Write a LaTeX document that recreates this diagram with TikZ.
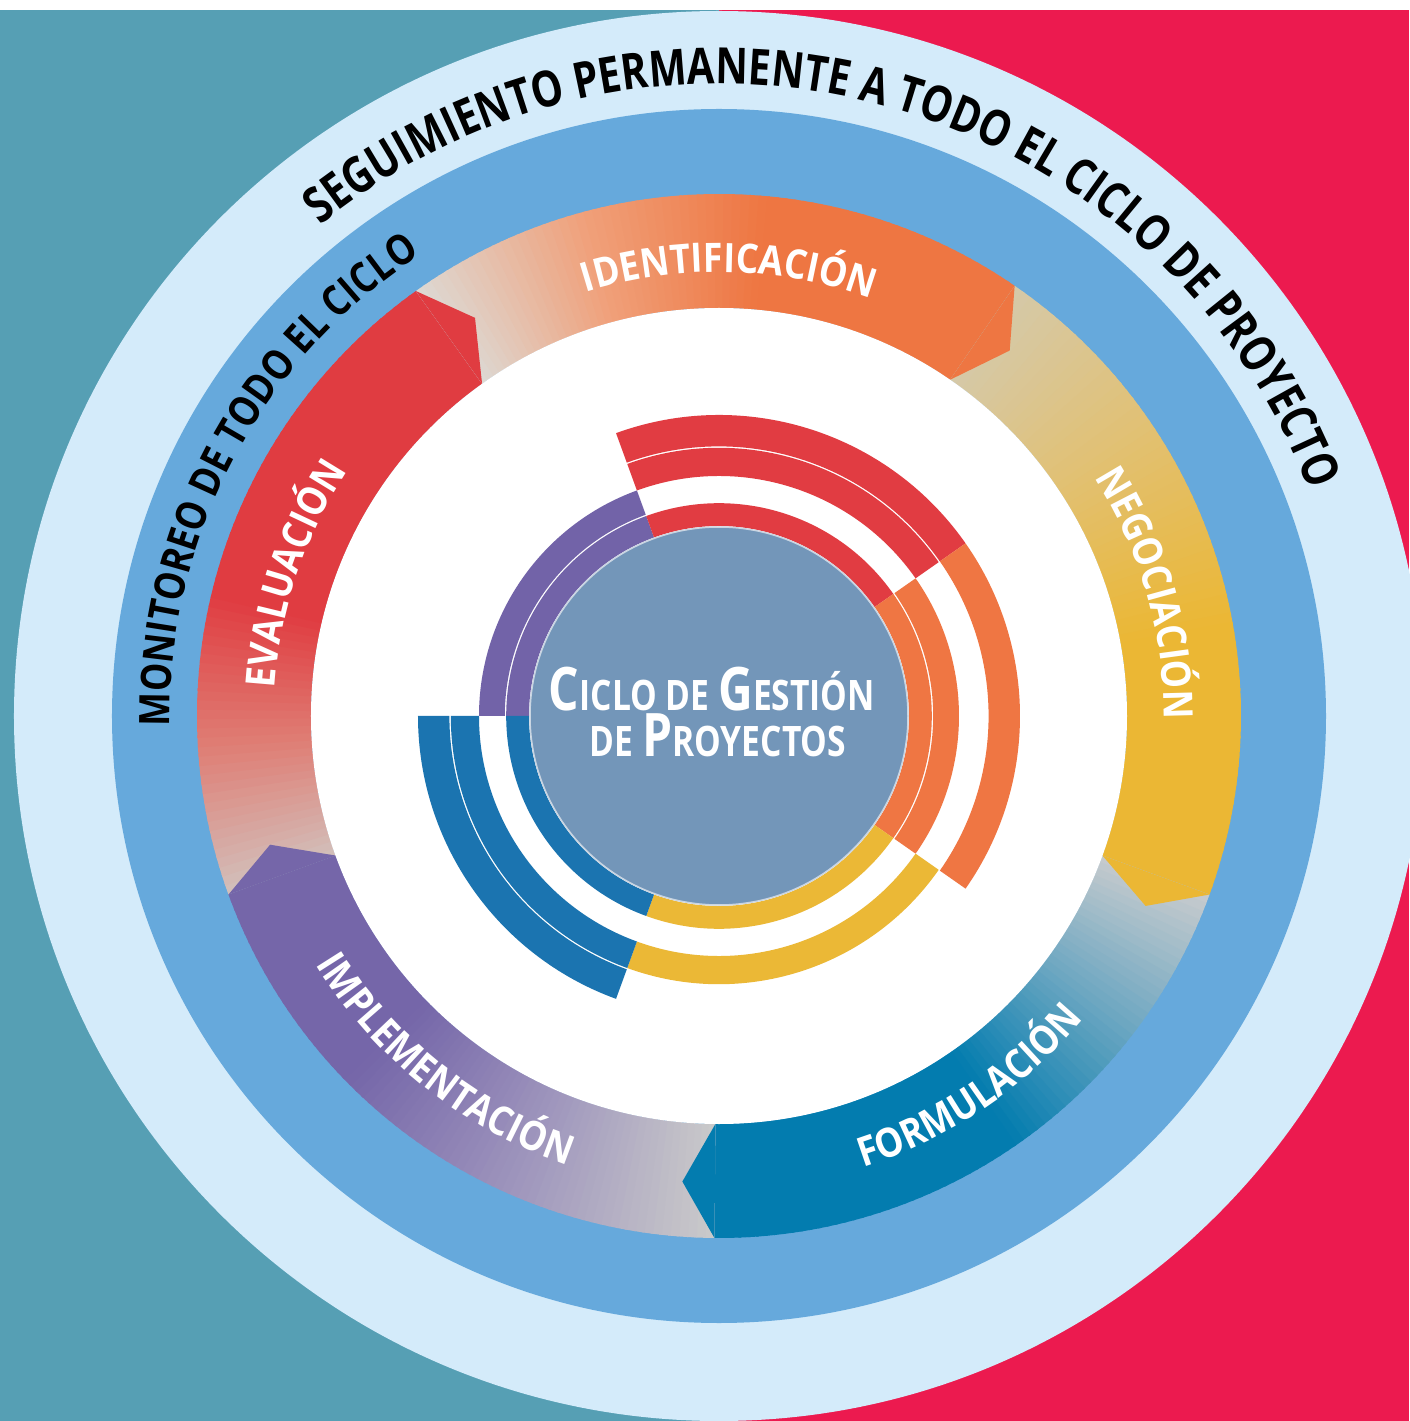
\documentclass[tikz,border=0pt]{standalone}
\usepackage{fontspec}
\newfontfamily\fOut[FakeStretch=0.80]{Open Sans}
\newfontfamily\fMon[FakeStretch=0.85]{Open Sans}
\newfontfamily\fLab[FakeStretch=0.88]{Open Sans}
\newfontfamily\fCen[FakeStretch=0.80]{Open Sans}
\usetikzlibrary{decorations.text}
\definecolor{bgteal}{HTML}{569FB4}
\definecolor{bgred}{HTML}{EC1A4F}
\definecolor{ringlight}{HTML}{D4EBFA}
\definecolor{ringblue}{HTML}{66A9DC}
\definecolor{hred}{HTML}{E03C41}
\definecolor{horange}{HTML}{EE7642}
\definecolor{hyellow}{HTML}{EBB734}
\definecolor{hteal}{HTML}{037CAF}
\definecolor{hpurple}{HTML}{7566A9}
\definecolor{tred}{HTML}{D2C0BB}
\definecolor{mred}{HTML}{DF7D74}
\definecolor{torange}{HTML}{DDD9D4}
\definecolor{morange}{HTML}{F0A07A}
\definecolor{tyellow}{HTML}{D5C9A9}
\definecolor{myellow}{HTML}{E2C070}
\definecolor{tteal}{HTML}{C8CBCE}
\definecolor{mteal}{HTML}{6AA6C1}
\definecolor{tpurple}{HTML}{CACACA}
\definecolor{mpurple}{HTML}{9F96BD}
\definecolor{iblue}{HTML}{1B74B0}
\definecolor{ipurple}{HTML}{7263A8}
\definecolor{iorange}{HTML}{EF7643}
\definecolor{iyellow}{HTML}{EBB836}
\definecolor{ired}{HTML}{E13C42}
\definecolor{disk}{HTML}{7396B9}
\definecolor{diskline}{HTML}{C9D5E2}
% #1 start angle (tail), #2 span, #3 tail, #4 mid, #5 head, #6 gradient fraction
\newcommand\ringseg[6]{%
  \foreach \i in {0,...,71}{%
    \pgfmathsetmacro\sgA{#1-\i*#2/72}%
    \pgfmathsetmacro\sgB{max(#1-#2,#1-(\i+1)*#2/72-0.3)}%
    \pgfmathsetmacro\sgT{(\i+0.5)/72}%
    \pgfmathsetmacro\sgPa{min(100,max(0,200*\sgT/#6))}%
    \pgfmathsetmacro\sgPb{min(100,max(0,200*(\sgT-#6/2)/#6))}%
    \colorlet{tmpA}{#4!\sgPa!#3}%
    \colorlet{segc}{#5!\sgPb!tmpA}%
    \fill[segc] (\sgA:408pt) arc[start angle=\sgA,end angle=\sgB,radius=408pt]
      -- (\sgB:522pt) arc[start angle=\sgB,end angle=\sgA,radius=522pt] -- cycle;
  }}
\newcommand\ringtip[2]{\fill[#2] (#1:522pt) -- ({#1-4}:467pt) -- (#1:408pt) -- cycle;}
\newcommand\band[5]{\fill[#5] (#1:#3pt) arc[start angle=#1,end angle=#2,radius=#3pt]
  -- (#2:#4pt) arc[start angle=#2,end angle=#1,radius=#4pt] -- cycle;}
\tikzset{
  arctext/.style={decorate,decoration={text along path,text align=center,text={#1}}},
}
\begin{document}
\begin{tikzpicture}
\useasboundingbox (-719pt,-705pt) rectangle (690pt,716pt);
\fill[white] (-719pt,-705pt) rectangle (690pt,716pt);
\fill[bgteal] (-719pt,-705pt) rectangle (0pt,706pt);
\fill[bgred] (0pt,-705pt) rectangle (690pt,706pt);
\fill[ringlight] (0,0) circle[radius=705pt];
\fill[ringblue] (0,0) circle[radius=607pt];
% phase ring
\ringseg{200}{74.5}{tred}{mred}{hred}{0.45}
\ringseg{125.5}{70}{torange}{morange}{horange}{0.58}
\ringseg{55.5}{75.5}{tyellow}{myellow}{hyellow}{0.6}
\ringseg{-20}{70.5}{tteal}{mteal}{hteal}{0.5}
\ringseg{-90.5}{69.5}{tpurple}{mpurple}{hpurple}{0.65}
\ringtip{125.5}{hred}
\ringtip{55.5}{horange}
\ringtip{-20}{hyellow}
\ringtip{-90.5}{hteal}
\ringtip{200}{hpurple}
\fill[white] (0,0) circle[radius=408pt];
% inner bands
\band{180}{110}{190}{212.8}{ipurple}
\band{110}{35}{190}{212.8}{ired}
\band{35}{-35}{190}{212.8}{iorange}
\band{-35}{-110}{190}{212.8}{iyellow}
\band{-110}{-180}{190}{212.8}{iblue}
\band{180}{110}{214.2}{240}{ipurple}
\band{35}{-35}{214.2}{240}{iorange}
\band{110}{35}{240}{268.2}{ired}
\band{-35}{-110}{240}{268.2}{iyellow}
\band{-110}{-180}{240}{268.2}{iblue}
\band{110}{35}{269.6}{301}{ired}
\band{35}{-35}{269.6}{301}{iorange}
\band{-110}{-180}{269.6}{301}{iblue}
\filldraw[fill=disk,draw=diskline,line width=1.5pt] (0,0) circle[radius=189pt];
% texts
\path[arctext={|\fOut\bfseries\fontsize{50pt}{50pt}\selectfont|SEGUIMIENTO PERMANENTE A TODO EL CICLO DE PROYECTO}]
  (165:632pt) arc[start angle=165,end angle=-15,radius=632pt];
\path[arctext={|\fMon\bfseries\fontsize{42pt}{42pt}\selectfont|MONITOREO DE TODO EL CICLO}]
  (200:549pt) arc[start angle=200,end angle=104,radius=549pt];
\path[arctext={|\fLab\bfseries\fontsize{40.6pt}{40.6pt}\selectfont\color{white}|IDENTIFICACIÓN}]
  (128.7:444pt) arc[start angle=128.7,end angle=48.7,radius=444pt];
\path[arctext={|\fLab\bfseries\fontsize{40.6pt}{40.6pt}\selectfont\color{white}|NEGOCIACIÓN}]
  (56:445pt) arc[start angle=56,end angle=-24,radius=445pt];
\path[arctext={|\fLab\bfseries\fontsize{40.6pt}{40.6pt}\selectfont\color{white}|EVALUACIÓN}]
  (201.5:445pt) arc[start angle=201.5,end angle=121.5,radius=445pt];
\path[arctext={|\fLab\bfseries\fontsize{40.6pt}{40.6pt}\selectfont\color{white}|FORMULACIÓN}]
  (-96:474pt) arc[start angle=-96,end angle=-16,radius=474pt];
\path[arctext={|\fLab\bfseries\fontsize{40.6pt}{40.6pt}\selectfont\color{white}|IMPLEMENTACIÓN}]
  (-168.5:474pt) arc[start angle=-168.5,end angle=-88.5,radius=474pt];
\node[anchor=base,text=white,font=\fCen\bfseries,inner sep=0pt] (c1) at (-7pt,5pt)
  {{\fontsize{60pt}{60pt}\selectfont C}{\fontsize{42pt}{42pt}\selectfont ICLO DE }{\fontsize{60pt}{60pt}\selectfont G}{\fontsize{42pt}{42pt}\selectfont ESTIÓN}};
\node[anchor=base,text=white,font=\fCen\bfseries,inner sep=0pt] (c2) at (-1pt,-41pt)
  {{\fontsize{42pt}{42pt}\selectfont DE }{\fontsize{60pt}{60pt}\selectfont P}{\fontsize{42pt}{42pt}\selectfont ROYECTOS}};
\end{tikzpicture}
\end{document}
